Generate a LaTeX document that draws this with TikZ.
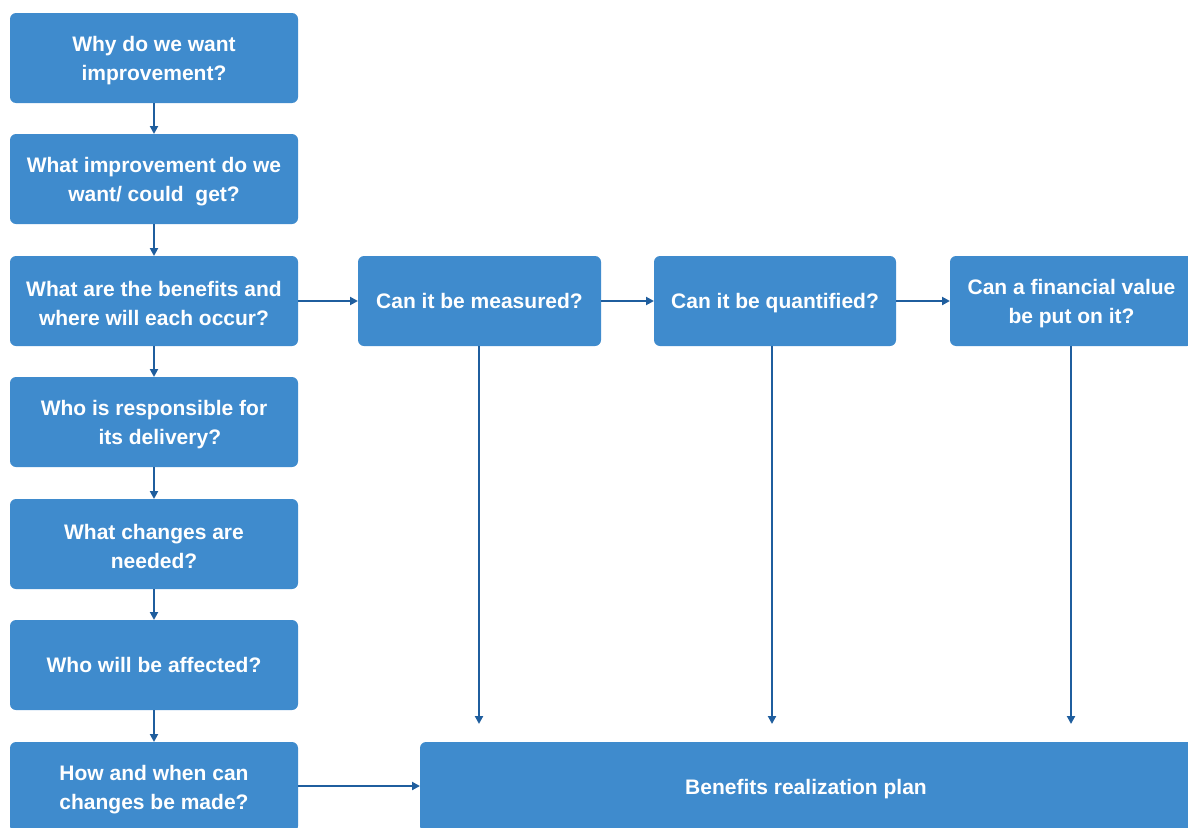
\documentclass[tikz,border=0pt]{standalone}
\usepackage{fontspec}
\setmainfont{Liberation Sans}
\usetikzlibrary{arrows.meta}
\definecolor{boxblue}{HTML}{3F8BCD}
\definecolor{linkblue}{HTML}{1F5E9E}
\begin{document}
\begin{tikzpicture}[x=1pt,y=-1pt,
  qbox/.style={fill=boxblue, rounded corners=6pt, draw=none},
  qtext/.style={text=white, align=center, font=\bfseries\fontsize{21}{29}\selectfont},
  oneline/.style={qtext, anchor=base},
  link/.style={draw=linkblue, line width=2pt, -{Triangle[length=8pt,width=8pt]}}]
\useasboundingbox (0,0) rectangle (1188,827);
\begin{scope}
\clip (0,0) rectangle (1188,827);
% left column of questions
\foreach \n/\t/\txt in {1/13/{Why do we want\\improvement?},
                        2/134/{What improvement do we\\want/ could\ \ get?},
                        3/256/{What are the benefits and\\where will each occur?},
                        4/377/{Who is responsible for\\\ \ its delivery?},
                        5/499/{What changes are\\needed?},
                        7/742/{How and when can\\changes be made?}}{
  \path[qbox] (10,\t) rectangle (298,\t+90);
  \node[qtext] (q\n) at (154,\t+47.5) {\txt};
  \coordinate (q\n t) at (154,\t);
  \coordinate (q\n b) at (154,\t+90);
}
\path[qbox] (10,620) rectangle (298,710);
\node[oneline] (q6) at (154,672.5) {Who will be affected?};
\coordinate (q6t) at (154,620);
\coordinate (q6b) at (154,710);
% measurement questions
\path[qbox] (358,256) rectangle (601,346);
\node[oneline] (m1) at (479.5,308.5) {Can it be measured?};
\path[qbox] (654,256) rectangle (896,346);
\node[oneline] (m2) at (775,308.5) {Can it be quantified?};
\path[qbox] (950,256) rectangle (1193,346);
\node[qtext] (m3) at (1071.5,303.5) {Can a financial value\\be put on it?};
% plan
\path[qbox] (420,742) rectangle (1193,832);
\node[oneline] (plan) at (806,794.5) {Benefits realization plan};
\end{scope}
% anchor points on box edges
\coordinate (q3r) at (298,301);
\coordinate (m1l) at (358,301);
\coordinate (m1r) at (601,301);
\coordinate (m2l) at (654,301);
\coordinate (m2r) at (896,301);
\coordinate (m3l) at (950,301);
\coordinate (m1b) at (479,346);
\coordinate (m2b) at (772,346);
\coordinate (m3b) at (1071,346);
\coordinate (e1) at (479,724);
\coordinate (e2) at (772,724);
\coordinate (e3) at (1071,724);
\coordinate (q7r) at (298,786);
\coordinate (planl) at (420,786);
% connectors
\foreach \a/\b in {1/2,2/3,3/4,4/5,5/6,6/7}
  \draw[link] (q\a b) -- (q\b t);
\draw[link] (q3r) -- (m1l);
\draw[link] (m1r) -- (m2l);
\draw[link] (m2r) -- (m3l);
\draw[link] (m1b) -- (e1);
\draw[link] (m2b) -- (e2);
\draw[link] (m3b) -- (e3);
\draw[link] (q7r) -- (planl);
\end{tikzpicture}
\end{document}
